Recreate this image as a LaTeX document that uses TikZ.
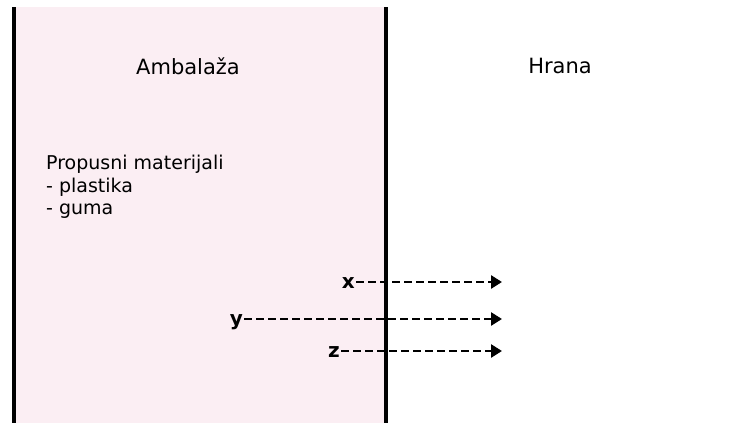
\documentclass[tikz,border=0pt]{standalone}
\usepackage{fontspec}
\setmainfont{DejaVu Sans}
\usetikzlibrary{arrows.meta}
\definecolor{ambpink}{RGB}{251,238,243}

\begin{document}
\begin{tikzpicture}[x=1pt, y=-1pt]
\tikzset{ >={Triangle[length=11pt, width=13pt]},
  zid/.style={line width=3.5pt},
  tok/.style={->, line width=2.6pt, dash pattern=on 8pt off 4pt},
  oznaka/.style={font=\fontsize{20}{22}\selectfont\bfseries, inner sep=1pt, anchor=base east},
  naslov/.style={font=\fontsize{21}{24}\selectfont},
}

\useasboundingbox (0,0) rectangle (749,423);

% ambalaza
\fill [ambpink] (14,7) rectangle (386,423);
\coordinate (LG) at (14,7);
\coordinate (LD) at (14,423);
\coordinate (DG) at (386,7);
\coordinate (DD) at (386,423);
\draw [zid] (LG) -- (LD);
\draw [zid] (DG) -- (DD);

\node [naslov] (A) at (188,66) {Ambalaža};
\node [naslov] (H) at (560,66) {Hrana};

\node [font=\fontsize{19}{22.5}\selectfont, align=left, anchor=north west, inner sep=0pt] (P) at (46,155)
  {Propusni materijali\\- plastika\\- guma};

% migracija
\node [oznaka] (X) at (356,288) {x};
\node [oznaka] (Y) at (244,325) {y};
\node [oznaka] (Z) at (341,357) {z};

\coordinate (XK) at (502,282);
\coordinate (YK) at (502,319);
\coordinate (ZK) at (502,351);

\draw [tok] ([yshift=6pt]X.base east) -- (XK);
\draw [tok] ([yshift=6pt]Y.base east) -- (YK);
\draw [tok] ([yshift=6pt]Z.base east) -- (ZK);

\end{tikzpicture}
\end{document}
